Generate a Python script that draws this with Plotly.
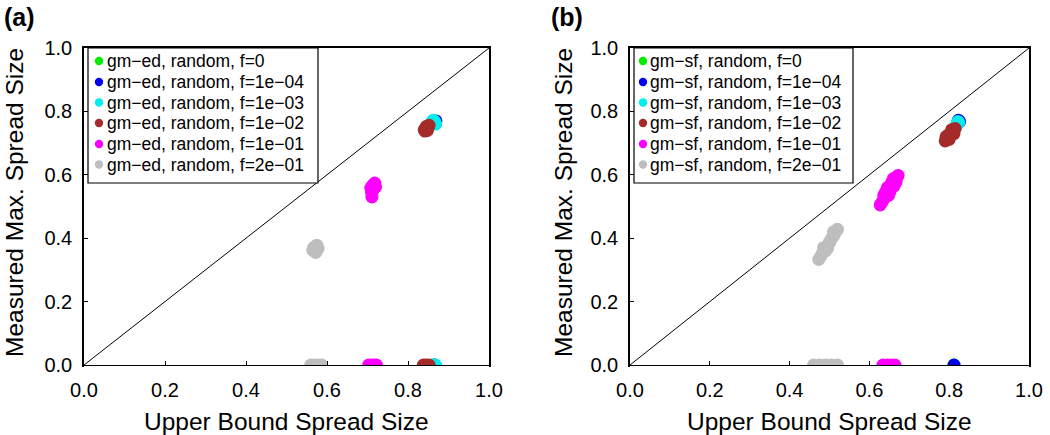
import plotly.graph_objects as go

# ---------------- data ----------------
series_names_a = ["gm−ed, random, f=0", "gm−ed, random, f=1e−04", "gm−ed, random, f=1e−03",
                  "gm−ed, random, f=1e−02", "gm−ed, random, f=1e−01", "gm−ed, random, f=2e−01"]
series_names_b = ["gm−sf, random, f=0", "gm−sf, random, f=1e−04", "gm−sf, random, f=1e−03",
                  "gm−sf, random, f=1e−02", "gm−sf, random, f=1e−01", "gm−sf, random, f=2e−01"]
series_colors = ["#00ee00", "#0000ee", "#00eeee", "#a52a2a", "#ff00ff", "#bebebe"]

# panel (a): gm-ed
a_f0_x = [0.862, 0.866, 0.864]
a_f0_y = [0.762, 0.766, 0.0]
a_f1e4_x = [0.866, 0.869, 0.868, 0.866]
a_f1e4_y = [0.768, 0.770, 0.762, 0.0]
a_f1e3_x = [0.862, 0.866, 0.868, 0.858, 0.860, 0.868]
a_f1e3_y = [0.772, 0.768, 0.760, 0.765, 0.0, 0.0]
a_f1e2_x = [0.842, 0.846, 0.850, 0.852, 0.845, 0.848, 0.840, 0.838, 0.845, 0.852]
a_f1e2_y = [0.738, 0.745, 0.750, 0.756, 0.752, 0.740, 0.742, 0.0, 0.0, 0.0]
a_f1e1_x = [0.708, 0.712, 0.716, 0.720, 0.714, 0.711, 0.718, 0.710, 0.703, 0.710, 0.718, 0.722]
a_f1e1_y = [0.558, 0.566, 0.570, 0.562, 0.552, 0.530, 0.574, 0.545, 0.0, 0.0, 0.0, 0.0]
a_f2e1_x = [0.565, 0.570, 0.575, 0.578, 0.572, 0.567, 0.574, 0.560, 0.570, 0.580, 0.587]
a_f2e1_y = [0.362, 0.372, 0.378, 0.368, 0.355, 0.370, 0.360, 0.0, 0.0, 0.0, 0.0]

# panel (b): gm-sf
b_f0_x = [0.820, 0.812]
b_f0_y = [0.762, 0.0]
b_f1e4_x = [0.826, 0.823, 0.812]
b_f1e4_y = [0.768, 0.772, 0.0]
b_f1e3_x = [0.820, 0.824, 0.818, 0.822]
b_f1e3_y = [0.762, 0.765, 0.755, 0.768]
b_f1e2_x = [0.790, 0.795, 0.800, 0.805, 0.810, 0.815, 0.797, 0.806, 0.812, 0.800, 0.792]
b_f1e2_y = [0.707, 0.715, 0.724, 0.732, 0.740, 0.746, 0.725, 0.742, 0.730, 0.712, 0.720]
b_f1e1_x = [0.627, 0.632, 0.636, 0.641, 0.645, 0.650, 0.654, 0.659, 0.663, 0.668, 0.672,
            0.640, 0.648, 0.655, 0.662, 0.636, 0.645, 0.660, 0.652, 0.667,
            0.634, 0.645, 0.655, 0.664]
b_f1e1_y = [0.505, 0.514, 0.524, 0.533, 0.542, 0.552, 0.561, 0.570, 0.579, 0.589, 0.598,
            0.545, 0.535, 0.575, 0.565, 0.535, 0.560, 0.588, 0.548, 0.578,
            0.0, 0.0, 0.0, 0.0]
b_f2e1_x = [0.473, 0.478, 0.482, 0.487, 0.492, 0.497, 0.501, 0.506, 0.511, 0.515, 0.520,
            0.490, 0.500, 0.485, 0.510, 0.495,
            0.460, 0.475, 0.490, 0.505, 0.520]
b_f2e1_y = [0.333, 0.343, 0.352, 0.362, 0.371, 0.381, 0.390, 0.400, 0.409, 0.419, 0.428,
            0.360, 0.385, 0.370, 0.420, 0.368,
            0.0, 0.0, 0.0, 0.0, 0.0]

panel_a = [(a_f0_x, a_f0_y), (a_f1e4_x, a_f1e4_y), (a_f1e3_x, a_f1e3_y),
           (a_f1e2_x, a_f1e2_y), (a_f1e1_x, a_f1e1_y), (a_f2e1_x, a_f2e1_y)]
panel_b = [(b_f0_x, b_f0_y), (b_f1e4_x, b_f1e4_y), (b_f1e3_x, b_f1e3_y),
           (b_f1e2_x, b_f1e2_y), (b_f1e1_x, b_f1e1_y), (b_f2e1_x, b_f2e1_y)]

diag = [0.0, 1.0]
tick_vals = [0.0, 0.2, 0.4, 0.6, 0.8, 1.0]
x_title = "Upper Bound Spread Size"
y_title = "Measured Max. Spread Size"
panel_labels = ["(a)", "(b)"]

# ---------------- figure ----------------
FONT = "Liberation Sans, Arial, Helvetica, sans-serif"
W, H = 1050, 435
PX = lambda v: v / W          # px -> paper x
PY = lambda v: 1 - v / H      # px (from top) -> paper y

fig = go.Figure()

def add_panel(data, names, xa, ya):
    fig.add_trace(go.Scatter(x=diag, y=diag, mode="lines", line=dict(color="black", width=1),
                             showlegend=False, hoverinfo="skip", xaxis=xa, yaxis=ya))
    for (xs, ys), name, col in zip(data, names, series_colors):
        fig.add_trace(go.Scatter(x=xs, y=ys, mode="markers", name=name, showlegend=False,
                                 marker=dict(color=col, size=13, line=dict(width=0)),
                                 xaxis=xa, yaxis=ya, cliponaxis=True))

add_panel(panel_a, series_names_a, "x", "y")
add_panel(panel_b, series_names_b, "x2", "y2")

top_px, bot_px = 48, 365
axis_common = dict(range=[0, 1], tickvals=tick_vals, tickformat=".1f", showgrid=False,
                   zeroline=False, showline=True, linecolor="black", linewidth=1.5,
                   mirror=True, ticks="inside", ticklen=4, tickwidth=1, tickcolor="black",
                   automargin=False,
                   tickfont=dict(size=20, color="black", family=FONT))

shapes = []
annotations = []

# white strip under each x axis so points sitting on y=0 show as half discs (as clipped in R)
for xr in ["x", "x2"]:
    shapes.append(dict(type="rect", xref=xr, yref="paper", x0=0.0, x1=1.0,
                       y0=PY(374), y1=PY(366), fillcolor="white", line=dict(width=0),
                       layer="above"))

# manual legends (box, coloured dots, labels), styled like the R legend
def add_legend(names, x0, x1, dot_x, text_x):
    shapes.append(dict(type="rect", xref="paper", yref="paper", x0=PX(x0), x1=PX(x1),
                       y0=PY(183), y1=PY(top_px), fillcolor="white",
                       line=dict(color="black", width=1.2), layer="above"))
    rows = [61, 82, 102.5, 123, 144, 164.5]
    for name, col, ry in zip(names, series_colors, rows):
        shapes.append(dict(type="circle", xref="paper", yref="paper", xsizemode="pixel",
                           ysizemode="pixel", xanchor=PX(dot_x), yanchor=PY(ry),
                           x0=-4.2, x1=4.2, y0=-4.2, y1=4.2, fillcolor=col,
                           line=dict(width=0), layer="above"))
        annotations.append(dict(text=name, x=PX(text_x), y=PY(ry), xref="paper", yref="paper",
                                xanchor="left", yanchor="middle", showarrow=False,
                                font=dict(size=17.5, family=FONT, color="black")))

add_legend(series_names_a, 88, 318, 99, 105)
add_legend(series_names_b, 634, 853, 643, 648)

# panel labels
annotations.append(dict(text="<b>" + panel_labels[0] + "</b>", x=PX(2), y=PY(1), xref="paper",
                        yref="paper", xanchor="left", yanchor="top", showarrow=False,
                        font=dict(size=25, family=FONT, color="black")))
annotations.append(dict(text="<b>" + panel_labels[1] + "</b>", x=PX(549), y=PY(1), xref="paper",
                        yref="paper", xanchor="left", yanchor="top", showarrow=False,
                        font=dict(size=25, family=FONT, color="black")))

# axis titles
for cx in [(84 + 489) / 2, (630 + 1029) / 2]:
    annotations.append(dict(text=x_title, x=PX(cx), y=PY(421), xref="paper", yref="paper",
                            xanchor="center", yanchor="middle", showarrow=False,
                            font=dict(size=24.5, family=FONT, color="black")))
for cx in [14, 563]:
    annotations.append(dict(text=y_title, x=PX(cx), y=PY(203),
                            xref="paper", yref="paper", xanchor="center", yanchor="middle",
                            textangle=-90, showarrow=False,
                            font=dict(size=24.5, family=FONT, color="black")))

fig.update_layout(
    width=W, height=H, margin=dict(l=0, r=0, t=0, b=0),
    paper_bgcolor="white", plot_bgcolor="white",
    font=dict(family=FONT, color="black"),
    showlegend=False,
    xaxis=dict(domain=[PX(84), PX(489)], anchor="y", ticklabelstandoff=6, **axis_common),
    yaxis=dict(domain=[PY(bot_px), PY(top_px)], anchor="x", ticklabelstandoff=6, **axis_common),
    xaxis2=dict(domain=[PX(630), PX(1029)], anchor="y2", ticklabelstandoff=6, **axis_common),
    yaxis2=dict(domain=[PY(bot_px), PY(top_px)], anchor="x2", ticklabelstandoff=6, **axis_common),
    shapes=shapes,
    annotations=annotations,
)

# remove the browser's default 8px page margin so the figure fills the window exactly
fig.write_html("out.html", config={"displayModeBar": False},
               post_script="document.body.style.margin='0';document.body.style.overflow='hidden';")
